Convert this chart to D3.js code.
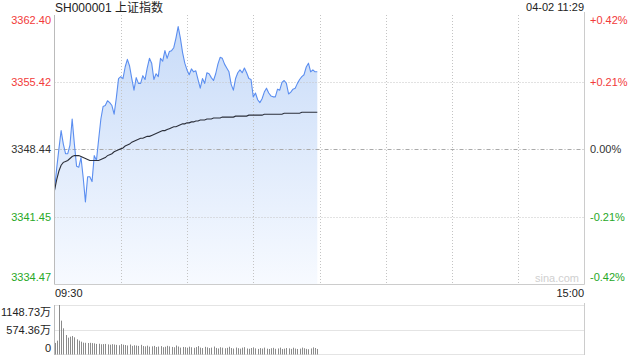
<!DOCTYPE html>
<html><head><meta charset="utf-8">
<script src="https://cdn.jsdelivr.net/npm/d3@7"></script>
<style>
html,body{margin:0;padding:0;background:#fff;}
svg text{font-family:"Liberation Sans",Arial,"Noto Sans CJK SC",sans-serif;}
</style></head>
<body><svg id="c" width="640" height="360"></svg>
<script>
const title = "SH000001 上证指数";
const stamp = "04-02 11:29";
const preClose = 3348.44;
const priceTicks = [3362.40, 3355.42, 3348.44, 3341.45, 3334.47];
const pctTicks = ["+0.42%", "+0.21%", "0.00%", "-0.21%", "-0.42%"];
const volTicks = [1148.73, 574.36, 0];
const volTickLabels = ["1148.73万", "574.36万", "0"];
const timeLabels = ["09:30", "15:00"];
const totalMinutes = 240;

const price = [3344.2,3346.5,3348.5,3350.4,3349.0,3348.0,3348.0,3348.9,3351.6,3349.0,
3346.7,3346.6,3347.6,3345.5,3343.0,3345.6,3345.6,3345.1,3347.8,3347.3,
3349.5,3351.6,3352.9,3353.0,3353.5,3353.3,3353.0,3352.1,3353.8,3355.8,
3356.0,3355.8,3357.0,3357.8,3357.1,3355.8,3354.6,3355.9,3355.3,3355.3,
3356.1,3355.7,3356.9,3357.9,3357.4,3355.7,3356.3,3356.0,3357.9,3357.6,
3358.7,3357.9,3358.6,3358.7,3359.0,3360.0,3361.2,3360.0,3358.5,3357.4,
3356.7,3356.2,3356.8,3356.5,3356.6,3355.7,3354.8,3355.8,3355.3,3356.4,
3356.3,3355.9,3355.6,3356.3,3357.3,3358.0,3357.9,3357.3,3356.9,3356.5,
3355.2,3354.6,3355.8,3356.4,3356.7,3356.4,3356.9,3356.4,3355.8,3355.7,
3353.9,3354.3,3353.6,3353.3,3353.7,3354.4,3354.8,3354.3,3354.0,3353.9,
3353.9,3354.7,3354.6,3355.4,3355.6,3355.3,3354.2,3354.4,3354.7,3354.8,
3355.3,3355.7,3356.0,3356.2,3357.0,3357.4,3356.5,3356.7,3356.5,3356.5];

const avg = [3344.2,3345.3,3346.2,3346.8,3347.1,3347.2,3347.3,3347.5,3347.7,3347.8,
3347.8,3347.8,3347.7,3347.6,3347.5,3347.4,3347.3,3347.3,3347.3,3347.3,
3347.3,3347.4,3347.5,3347.6,3347.8,3347.9,3348.0,3348.2,3348.3,3348.4,
3348.5,3348.6,3348.8,3348.9,3349.0,3349.2,3349.3,3349.4,3349.5,3349.6,
3349.6,3349.7,3349.8,3349.8,3349.9,3350.0,3350.1,3350.2,3350.3,3350.4,
3350.4,3350.5,3350.6,3350.7,3350.8,3350.8,3350.9,3351.0,3351.1,3351.1,
3351.2,3351.2,3351.3,3351.3,3351.4,3351.4,3351.5,3351.5,3351.5,3351.6,
3351.6,3351.6,3351.7,3351.7,3351.7,3351.7,3351.8,3351.8,3351.8,3351.8,
3351.8,3351.8,3351.9,3351.9,3351.9,3351.9,3351.9,3351.9,3352.0,3352.0,
3352.0,3352.0,3352.0,3352.0,3352.0,3352.1,3352.1,3352.1,3352.1,3352.1,
3352.1,3352.1,3352.1,3352.1,3352.2,3352.2,3352.2,3352.2,3352.2,3352.2,
3352.2,3352.2,3352.3,3352.3,3352.3,3352.3,3352.3,3352.3,3352.3,3352.3];

const volume = [260,313,1148.73,782,602,445,383,406,422,391,
344,313,289,266,262,258,262,255,250,236,
240,228,232,236,225,218,230,222,214,205,
232,218,210,200,222,190,205,198,190,215,
185,178,196,172,180,190,165,175,185,160,
170,192,178,166,158,200,176,150,165,160,
148,172,158,145,162,185,150,140,168,155,
138,150,175,142,130,158,148,135,145,170,
140,128,152,136,125,148,160,130,122,140,
155,132,120,138,128,150,126,118,135,145,
122,130,150,118,126,140,132,120,148,128,
118,125,150,135,120,112,130,155,140,118];

const svg = d3.select("#c");
const L = 54.5, R = 584.5, T = 15, B = 284;
const VT = 305, VB = 354;
const x = d3.scaleLinear().domain([0, totalMinutes]).range([L, R]);
const y = d3.scaleLinear().domain([priceTicks[4], priceTicks[0]]).range([B, T]);
const yv = d3.scaleLinear().domain([0, volTicks[0]]).range([VB, VT]);

const red = "#f23a3a", green = "#27a827", dark = "#333";

// gradient
const defs = svg.append("defs");
const g = defs.append("linearGradient").attr("id","fill").attr("gradientUnits","userSpaceOnUse")
  .attr("x1",0).attr("x2",0).attr("y1",T).attr("y2",B);
g.append("stop").attr("offset","0").attr("stop-color","#c6daf8");
g.append("stop").attr("offset","1").attr("stop-color","#f7faff");

// area (under grid)
const area = d3.area().x((d,i)=>x(i)).y0(B).y1(d=>y(d));
svg.append("path").datum(price).attr("d",area).attr("fill","url(#fill)");

// vertical grid
const vg = d3.range(30, totalMinutes, 30);
svg.append("g").selectAll("line").data(vg).join("line")
  .attr("x1",d=>Math.round(x(d))+0.5).attr("x2",d=>Math.round(x(d))+0.5)
  .attr("y1",T).attr("y2",B).attr("stroke","#c4c4c4").attr("stroke-dasharray","1,2");

// horizontal grid
[1,3].forEach(i=>{
  svg.append("line").attr("x1",L).attr("x2",R)
    .attr("y1",Math.round(y(priceTicks[i]))+0.5).attr("y2",Math.round(y(priceTicks[i]))+0.5)
    .attr("stroke","#c4c4c4").attr("stroke-dasharray","1,2");
});
svg.append("line").attr("x1",L).attr("x2",R)
  .attr("y1",Math.round(y(preClose))+0.5).attr("y2",Math.round(y(preClose))+0.5)
  .attr("stroke","#aaa").attr("stroke-dasharray","4,2,1,2");

const line = d3.line().x((d,i)=>x(i)).y(d=>y(d));
svg.append("path").datum(price).attr("d",line).attr("fill","none")
  .attr("stroke","#5b8ef0").attr("stroke-width",1.1).attr("stroke-linejoin","round");
svg.append("path").datum(avg).attr("d",line).attr("fill","none")
  .attr("stroke","#2b2f3a").attr("stroke-width",1.1);

// borders
svg.append("line").attr("x1",L).attr("x2",L).attr("y1",T).attr("y2",B+0.5).attr("stroke","#bbb");
svg.append("line").attr("x1",R).attr("x2",R).attr("y1",T-3).attr("y2",B+0.5).attr("stroke","#ccc");
svg.append("line").attr("x1",L).attr("x2",R).attr("y1",B+0.5).attr("y2",B+0.5).attr("stroke","#ccc");

// price labels
const pColor = i => i<2 ? red : (i==2 ? dark : green);
const labY = [T+9, null, null, null, B-3];
svg.append("g").selectAll("text").data(priceTicks).join("text")
  .attr("x",51).attr("y",(d,i)=> labY[i]!=null ? labY[i] : y(d)+4)
  .attr("text-anchor","end").attr("font-size",11).attr("fill",(d,i)=>pColor(i))
  .text(d=>d.toFixed(2));
svg.append("g").selectAll("text").data(pctTicks).join("text")
  .attr("x",590).attr("y",(d,i)=> labY[i]!=null ? labY[i] : y(priceTicks[i])+4)
  .attr("font-size",11).attr("fill",(d,i)=>pColor(i)).text(d=>d);

// title / stamp
svg.append("text").attr("x",55).attr("y",12).attr("font-size",12).attr("fill","#222").text(title);
svg.append("text").attr("x",584).attr("y",11).attr("text-anchor","end").attr("font-size",11).attr("fill","#222").text(stamp);
svg.append("text").attr("x",579).attr("y",282).attr("text-anchor","end").attr("font-size",11).attr("fill","#d0d0d0").text("sina.com");

// time labels
svg.append("text").attr("x",55).attr("y",297).attr("font-size",11).attr("fill","#222").text(timeLabels[0]);
svg.append("text").attr("x",584).attr("y",297).attr("text-anchor","end").attr("font-size",11).attr("fill","#222").text(timeLabels[1]);

// volume pane
volTicks.forEach(v=>{
  svg.append("line").attr("x1",L).attr("x2",R).attr("y1",Math.round(yv(v))+0.5).attr("y2",Math.round(yv(v))+0.5)
    .attr("stroke","#c8c8c8").attr("stroke-dasharray","1,1");
});
svg.append("line").attr("x1",L).attr("x2",L).attr("y1",VT).attr("y2",VB+1).attr("stroke","#bbb");
svg.append("line").attr("x1",R).attr("x2",R).attr("y1",VT-2).attr("y2",VB+1).attr("stroke","#ccc");
svg.append("g").selectAll("line").data(volume).join("line")
  .attr("x1",(d,i)=>Math.round(x(i))+0.5).attr("x2",(d,i)=>Math.round(x(i))+0.5)
  .attr("y1",VB+0.5).attr("y2",d=>yv(d)).attr("stroke","#8a8a8a").attr("stroke-width",1);
const vLabY = [VT+11, null, VB-2];
svg.append("g").selectAll("text").data(volTickLabels).join("text")
  .attr("x",51).attr("y",(d,i)=> vLabY[i]!=null ? vLabY[i] : yv(volTicks[i])+4)
  .attr("text-anchor","end").attr("font-size",11).attr("fill","#222").text(d=>d);
</script></body></html>
